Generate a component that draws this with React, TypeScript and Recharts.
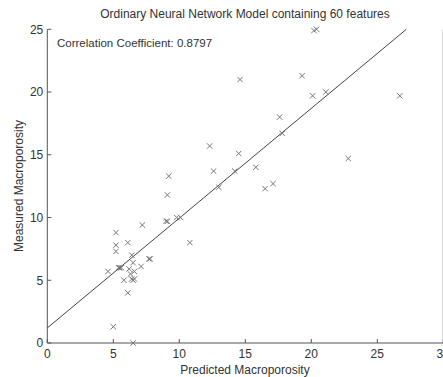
import { ScatterChart, Scatter, XAxis, YAxis } from 'recharts';

// values
const predicted = [
  4.6, 5.0, 5.2, 5.2, 5.2, 5.4, 5.5, 5.6, 5.8, 6.1, 6.1, 6.2, 6.3, 6.4, 6.4, 6.5, 6.5, 6.5,
  6.6, 6.6, 7.1, 7.2, 7.7, 7.8, 9.0, 9.1, 9.1, 9.2, 9.8, 10.1, 10.8, 12.3, 12.6, 13.0, 14.2,
  14.5, 14.6, 15.8, 16.5, 17.1, 17.6, 17.8, 19.3, 20.1, 20.2, 20.4, 21.1, 22.8, 26.7,
];
const measured = [
  5.7, 1.3, 8.8, 7.8, 7.3, 6.0, 6.0, 6.0, 5.0, 8.0, 4.0, 5.9, 5.5, 7.0, 5.1, 5.0, 6.4, 0,
  5.7, 5.1, 6.1, 9.4, 6.7, 6.7, 9.7, 9.7, 11.8, 13.3, 10.0, 10.0, 8.0, 15.7, 13.7, 12.4, 13.7,
  15.1, 21.0, 14.0, 12.3, 12.7, 18.0, 16.7, 21.3, 19.7, 24.9, 25.0, 20.0, 14.7, 19.7,
];
const fitX = [0, 27.2];
const fitY = [1.2, 25];
const xTicks = [0, 5, 10, 15, 20, 25, 30];
const yTicks = [0, 5, 10, 15, 20, 25];

const points = predicted.map((x, i) => ({ x, y: measured[i] }));
const fit = fitX.map((x, i) => ({ x, y: fitY[i] }));

const FONT = '"Liberation Sans", Arial, sans-serif';
const TXT = '#333';
const AX = '#555';
const TXTSTYLE = { fontFamily: FONT, fontSize: 12, fill: TXT };

function Cross({ cx, cy }: any) {
  const r = 2.7;
  return (
    <path d={`M${cx - r},${cy - r}L${cx + r},${cy + r}M${cx - r},${cy + r}L${cx + r},${cy - r}`}
      stroke="#777" strokeWidth={1} fill="none" />
  );
}

const BottomTick = ({ x, y, payload }: any) => (
  <g>
    <line x1={x} x2={x} y1={y} y2={y - 4} stroke={AX} />
    <text x={x} y={y + 14.5} textAnchor="middle" style={TXTSTYLE}>{payload.value}</text>
  </g>
);
const TopTick = ({ x, y }: any) => <line x1={x} x2={x} y1={y} y2={y + 4} stroke={AX} />;
const LeftTick = ({ x, y, payload }: any) => (
  <g>
    <line x1={x} x2={x + 4} y1={y} y2={y} stroke={AX} />
    <text x={x - 4} y={y + 4.3} textAnchor="end" style={TXTSTYLE}>{payload.value}</text>
  </g>
);
const RightTick = ({ x, y }: any) => <line x1={x} x2={x - 4} y1={y} y2={y} stroke={AX} />;

export default function App() {
  return (
    <div style={{ position: 'absolute', left: 0, top: 0, width: 443, height: 377, overflow: 'hidden', background: '#fff' }}>
      <ScatterChart width={446} height={377} margin={{ top: 29.3, right: 0, bottom: 0, left: 0 }}>
        <XAxis xAxisId="b" type="number" dataKey="x" domain={[0, 30]} ticks={xTicks} height={34}
          stroke={AX} tickSize={0} tickMargin={0} tick={<BottomTick />} interval={0} />
        <XAxis xAxisId="t" orientation="top" type="number" dataKey="x" domain={[0, 30]} ticks={xTicks} height={0}
          stroke={AX} tickSize={0} tickMargin={0} tick={<TopTick />} interval={0} />
        <YAxis yAxisId="l" type="number" dataKey="y" domain={[0, 25]} ticks={yTicks} width={47.3}
          stroke={AX} tickSize={0} tickMargin={0} tick={<LeftTick />} interval={0} />
        <YAxis yAxisId="r" orientation="right" type="number" dataKey="y" domain={[0, 25]} ticks={yTicks} width={2.7}
          stroke={AX} tickSize={0} tickMargin={0} tick={<RightTick />} interval={0} />
        <Scatter xAxisId="b" yAxisId="l" data={fit} line={{ stroke: '#444', strokeWidth: 1 }}
          shape={() => <g />} isAnimationActive={false} />
        <Scatter xAxisId="b" yAxisId="l" data={points} shape={<Cross />} isAnimationActive={false} />
        <text x={245} y={18} textAnchor="middle" style={TXTSTYLE}>
          Ordinary Neural Network Model containing 60 features
        </text>
        <text x={57} y={47} style={{ ...TXTSTYLE, fontSize: 11.5 }}>Correlation Coefficient: 0.8797</text>
        <text x={245} y={374} textAnchor="middle" style={TXTSTYLE}>Predicted Macroporosity</text>
        <text x={23} y={186} textAnchor="middle" transform="rotate(-90, 23, 186)" style={TXTSTYLE}>
          Measured Macroporosity
        </text>
      </ScatterChart>
    </div>
  );
}
